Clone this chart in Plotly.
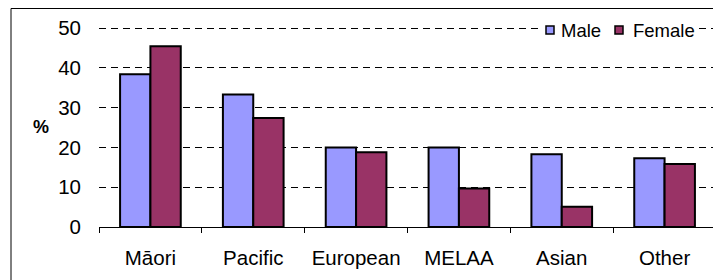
import plotly.graph_objects as go

categories = ["Māori", "Pacific", "European", "MELAA", "Asian", "Other"]
male = [38.4, 33.3, 20.0, 20.0, 18.3, 17.3]
female = [45.4, 27.4, 18.8, 9.7, 5.1, 15.8]
y_ticks = [0, 10, 20, 30, 40, 50]
series_names = ["Male", "Female"]
series_colors = ["#9999FF", "#993366"]

# the page body has an 8px margin, so the figure starts at (8, 8) on screen
OFF = 8
W, H = 721 - OFF, 280 - OFF
L, R, T, B = 99 - OFF, 716 - OFF, 20 - OFF, 227 - OFF
pw, ph = R - L, B - T
PX_PER_UNIT = 3.98
y_top = ph / PX_PER_UNIT

def px_x(px):
    return (px - OFF - L) / pw

def px_y(py):
    return (B - (py - OFF)) / ph

FONT = "Liberation Sans, Arial, sans-serif"

fig = go.Figure()
for name, vals, col in zip(series_names, [male, female], series_colors):
    fig.add_trace(go.Bar(name=name, x=categories, y=vals,
                         marker=dict(color=col, line=dict(color="black", width=2))))

shapes = [dict(type="rect", xref="paper", yref="paper",
               x0=px_x(11), x1=px_x(715), y0=px_y(300), y1=px_y(8.5),
               line=dict(color="black", width=1), layer="below")]
annotations = [dict(text="<b>%</b>", xref="paper", yref="paper",
                    x=px_x(41), y=px_y(127), xanchor="center", yanchor="middle",
                    showarrow=False, font=dict(size=18))]

# legend box (drawn like the original: small squares, tight spacing)
shapes.append(dict(type="rect", xref="paper", yref="paper",
                   x0=px_x(539), x1=px_x(698), y0=px_y(41), y1=px_y(19),
                   fillcolor="white", line=dict(width=0), layer="above"))
leg_sq_x = [545, 614]
leg_tx_x = [559, 631]
for name, col, sx, tx in zip(series_names, series_colors, leg_sq_x, leg_tx_x):
    shapes.append(dict(type="rect", xref="paper", yref="paper",
                       x0=px_x(sx + 1), x1=px_x(sx + 9), y0=px_y(34), y1=px_y(26),
                       fillcolor=col, line=dict(color="black", width=1.5), layer="above"))
    annotations.append(dict(text=name, xref="paper", yref="paper",
                            x=px_x(tx), y=px_y(30), xanchor="left", yanchor="middle",
                            showarrow=False, font=dict(size=18.5)))

fig.update_layout(
    width=W, height=H,
    margin=dict(l=L, r=W - R, t=T, b=H - B, pad=0),
    paper_bgcolor="white", plot_bgcolor="white",
    barmode="group", bargap=0.41, bargroupgap=0,
    font=dict(family=FONT, size=20.5, color="black"),
    showlegend=False,
    xaxis=dict(showline=True, linecolor="black", linewidth=1, ticks="outside",
               tickson="boundaries", ticklen=5, tickcolor="black", showgrid=False,
               ticklabelstandoff=12, fixedrange=True),
    yaxis=dict(range=[0, y_top], tickvals=y_ticks, showline=False, showgrid=True,
               gridcolor="black", griddash="7px,5px", gridwidth=1, zeroline=False,
               ticks="", ticklabelstandoff=17, fixedrange=True),
    shapes=shapes,
    annotations=annotations,
)

fig.write_html("out.html")
